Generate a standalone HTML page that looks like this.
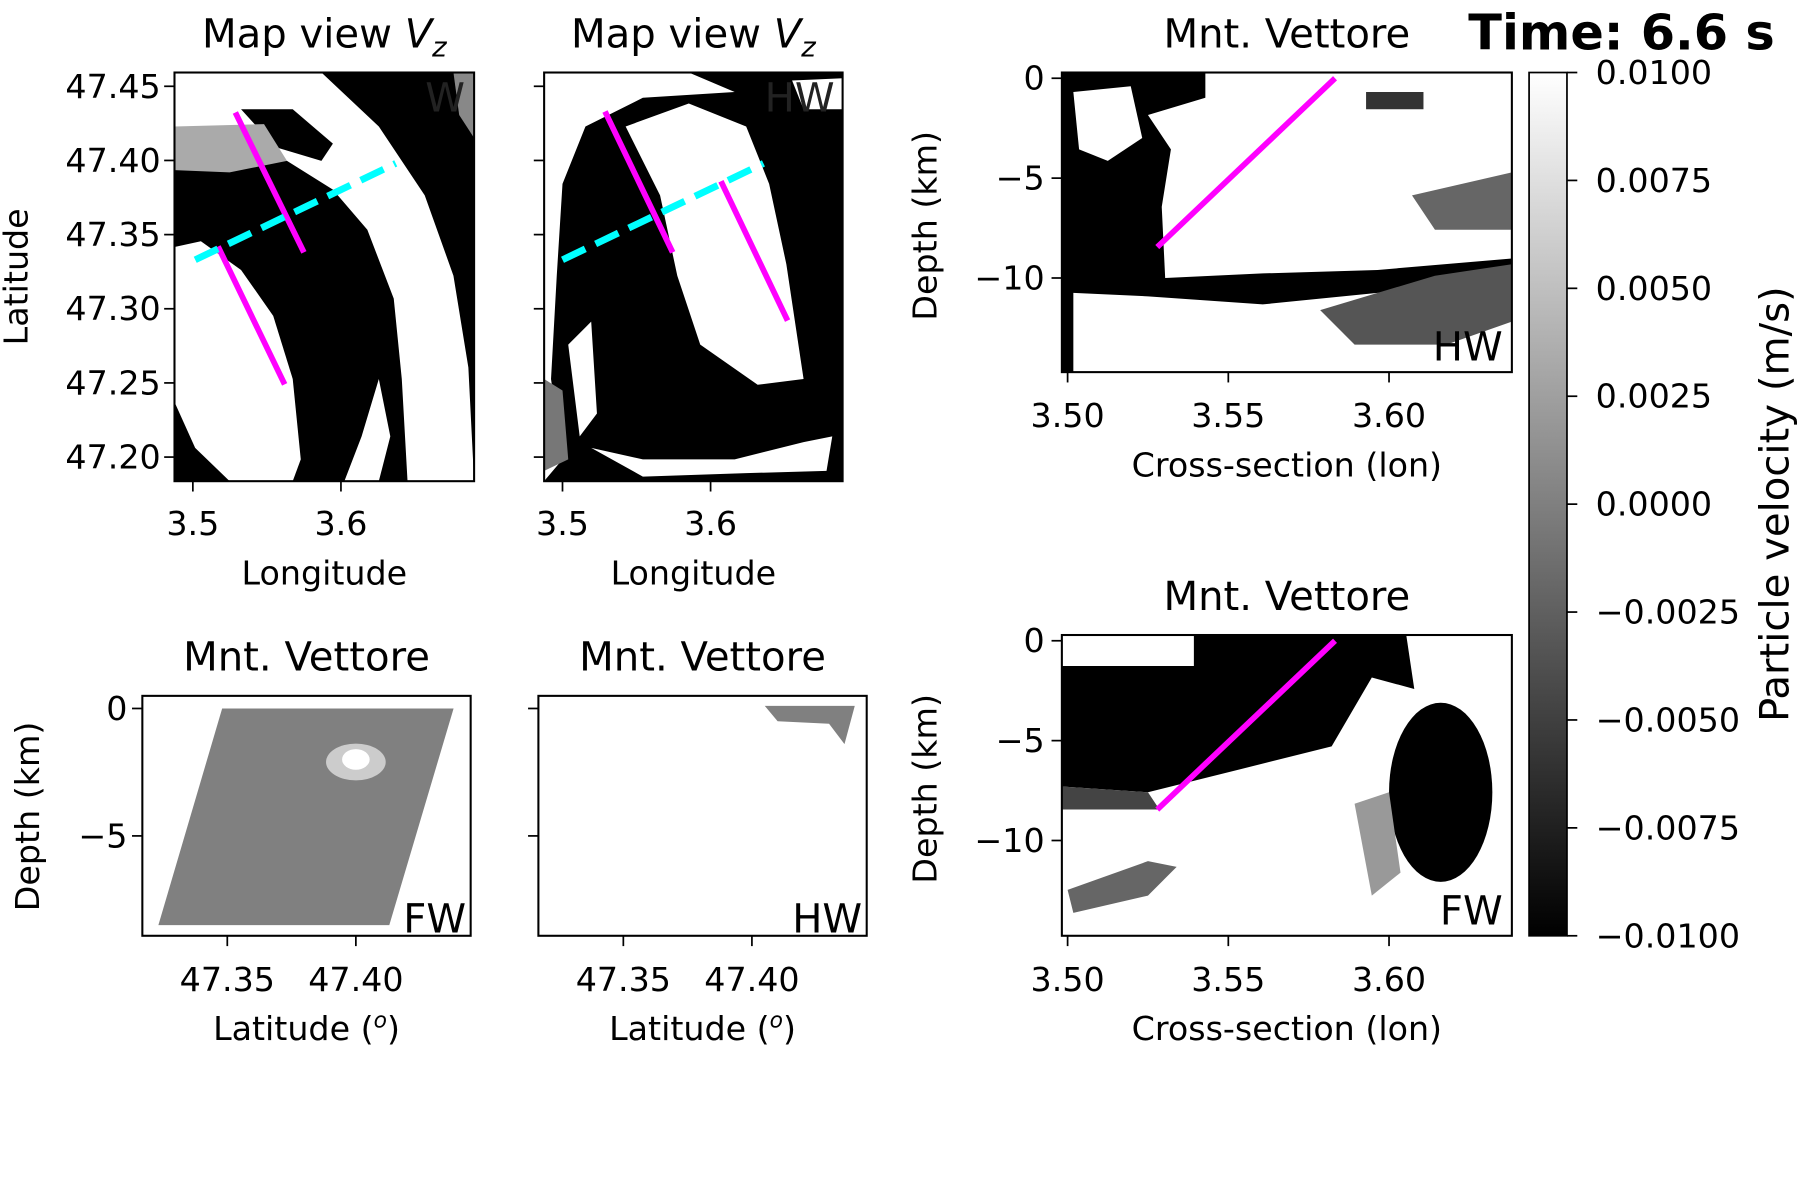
<!DOCTYPE html>
<html><head><meta charset="utf-8"><style>
html,body{margin:0;padding:0;background:#fff;}
svg{display:block;font-family:"DejaVu Sans","Liberation Sans",sans-serif;}
</style></head><body>
<svg id="fig" width="1800" height="1200" viewBox="0 0 1568 1045" xmlns="http://www.w3.org/2000/svg">
<defs>
<linearGradient id="cbg" x1="0" y1="1" x2="0" y2="0"><stop offset="0" stop-color="#000"/><stop offset="1" stop-color="#fff"/></linearGradient>
<clipPath id="c1"><rect x="152" y="63" width="261" height="356"/></clipPath>
<clipPath id="c2"><rect x="474" y="63" width="260" height="356"/></clipPath>
<clipPath id="c3"><rect x="925" y="63" width="392" height="261"/></clipPath>
<clipPath id="c4"><rect x="925" y="553" width="392" height="262"/></clipPath>
</defs>
<g clip-path="url(#c1)">
<rect x="152" y="63" width="261" height="356" fill="#000"/>
<polygon fill="#fff" points="152,63 280,63 330,110 370,170 395,240 408,320 413,419 355,419 350,330 343,260 320,200 290,165 250,140 200,128 152,125"/>
<polygon fill="#000" points="210,95 255,95 290,125 280,140 240,128"/>
<polygon fill="#aaa" points="152,110 230,108 250,140 200,150 152,148"/>
<polygon fill="#fff" points="152,215 175,210 210,235 238,275 255,330 262,400 255,419 200,419 170,390 152,350"/>
<polygon fill="#fff" points="300,419 315,380 330,330 340,380 330,419"/>
<polygon fill="#888" points="395,63 413,63 413,120 400,100"/>
</g>
<g clip-path="url(#c2)">
<rect x="474" y="63" width="260" height="356" fill="#000"/>
<polygon fill="#fff" points="474,63 600,63 640,80 560,85 510,110 490,160 485,240 480,330 490,400 474,419"/>
<polygon fill="#fff" points="545,110 600,90 650,110 670,160 685,230 700,330 660,335 610,300 590,240 575,170"/>
<polygon fill="#fff" points="495,300 515,280 520,360 505,380"/>
<polygon fill="#fff" points="515,390 560,400 640,400 700,385 725,380 720,410 650,412 560,415"/>
<polygon fill="#fff" points="690,70 734,68 734,95 700,95"/>
<polygon fill="#777" points="474,330 490,340 495,400 474,410"/>
</g>
<g clip-path="url(#c3)">
<rect x="925" y="63" width="392" height="261" fill="#000"/>
<polygon fill="#fff" points="1050,63 1317,63 1317,225 1200,235 1100,238 1015,242 1012,180 1020,130 1000,100 1050,85"/>
<polygon fill="#fff" points="935,80 985,75 995,120 965,140 940,130"/>
<polygon fill="#fff" points="935,255 1000,258 1100,265 1200,255 1317,250 1317,324 935,324"/>
<polygon fill="#666" points="1230,170 1317,150 1317,200 1250,200"/>
<polygon fill="#555" points="1150,270 1250,240 1317,230 1317,280 1260,300 1180,300"/>
<polygon fill="#333" points="1190,80 1240,80 1240,95 1190,95"/>
</g>
<g clip-path="url(#c4)">
<rect x="925" y="553" width="392" height="262" fill="#fff"/>
<polygon fill="#000" points="925,580 1040,580 1040,553 1225,553 1232,600 1195,590 1160,650 1080,670 1000,690 925,685"/>
<polygon fill="#444" points="925,685 1000,690 1010,705 925,705"/>
<ellipse cx="1255" cy="690" rx="45" ry="78" fill="#000"/>
<polygon fill="#666" points="930,775 1000,750 1025,755 1000,780 935,795"/>
<polygon fill="#999" points="1180,700 1210,690 1220,760 1195,780"/>
</g>
<g id="plots"></g>
<rect x="1332" y="63" width="33" height="752" fill="url(#cbg)" stroke="#000" stroke-width="1.5"/>
</svg>
<script>
// ---- data ----
const mapLonTicks=[3.5,3.6];
const mapLatTicks=[47.45,47.40,47.35,47.30,47.25,47.20];
const map1Faults=[[[3.5287,47.4323],[3.575,47.338]],[[3.517,47.342],[3.562,47.249]]];
const map1Profile=[[3.5016,47.333],[3.637,47.398]];
const map2Faults=[[[3.5287,47.433],[3.5744,47.338]],[[3.607,47.386],[3.652,47.292]]];
const map2Profile=[[3.50,47.333],[3.6357,47.398]];
const xsecLonTicks=[3.50,3.55,3.60];
const xsecDepthTicks=[0,-5,-10];
const xsecFault=[[3.5279,-8.45],[3.5832,0]];
const latTicks=[47.35,47.40];
const fwDepthTicks=[0,-5];
const fwPatch=[[47.3232,-8.5],[47.348,0],[47.438,0],[47.413,-8.5]];
const hwPatch=[[47.405,0.1],[47.44,0.1],[47.436,-1.4],[47.43,-0.6],[47.41,-0.5]];
const cbTicks=[0.0100,0.0075,0.0050,0.0025,0.0000,-0.0025,-0.0050,-0.0075,-0.0100];

const NS='http://www.w3.org/2000/svg';
const G=document.getElementById('plots');
function mk(t,a,p){const e=document.createElementNS(NS,t);for(const k in a)e.setAttribute(k,a[k]);(p||G).appendChild(e);return e;}
function lin(d0,d1,r0,r1){return v=>r0+(v-d0)*(r1-r0)/(d1-d0);}
function txt(x,y,s,size,anchor,extra){const e=mk('text',Object.assign({x:x,y:y,'font-size':size,'text-anchor':anchor||'middle',fill:'#000'},extra||{}));e.textContent=s;return e;}
const TK=29, AX=29, TT=35;

const m1x=lin(3.5,3.6,168,297), m2x=lin(3.5,3.6,490,619);
const my=lin(47.45,47.20,75,398);
function mapAxes(L,R,xs,name,showY){
  const f=mk('rect',{x:L,y:63,width:R-L,height:356,fill:'none',stroke:'#000','stroke-width':1.8});
  
  
  mapLonTicks.forEach(v=>{const x=xs(v);mk('line',{x1:x,y1:419,x2:x,y2:428,stroke:'#000','stroke-width':1.5});
    const t=txt(x,466,v.toFixed(1),TK);});
  mapLatTicks.forEach(v=>{const y=my(v);mk('line',{x1:L-9,y1:y,x2:L,y2:y,stroke:'#000','stroke-width':1.5});
    if(showY){const t=txt(L-12,y+10,v.toFixed(2),TK,'end');}});
  const xl=txt((L+R)/2,509,'Longitude',AX);
  const tt=mk('text',{x:(L+R)/2,y:41,'font-size':TT,'text-anchor':'middle'});
  tt.innerHTML='Map view <tspan font-style="italic">V</tspan><tspan font-style="italic" font-size="24" dy="8">z</tspan>';
  
}
function drawMapLines(xs,faults,prof,name){
  faults.forEach(f=>{const l=mk('line',{x1:xs(f[0][0]),y1:my(f[0][1]),x2:xs(f[1][0]),y2:my(f[1][1]),stroke:'#ff00ff','stroke-width':5});
    });
  const p=mk('line',{x1:xs(prof[0][0]),y1:my(prof[0][1]),x2:xs(prof[1][0]),y2:my(prof[1][1]),stroke:'#00ffff','stroke-width':6,'stroke-dasharray':'22,10'});
  
}
mapAxes(152,413,m1x,'map1',true);
mapAxes(474,734,m2x,'map2',false);
drawMapLines(m1x,map1Faults,map1Profile,'map1');
drawMapLines(m2x,map2Faults,map2Profile,'map2');
txt(405,97,'W',35,'end',{fill:'#222'});
txt(727,97,'HW',35,'end',{fill:'#222'});
const yl=txt(0,0,'Latitude',AX,'middle',{transform:'translate(24,241) rotate(-90)'});


const bx1=lin(47.35,47.40,198,310), bx2=lin(47.35,47.40,543,655);
const by=lin(0,-5,617,728);
function faultPanel(L,R,xs,name,showY,label,poly,fill){
  mk('rect',{x:L,y:606,width:R-L,height:209,fill:'#fff'});
  const pg=mk('polygon',{points:poly.map(p=>xs(p[0])+','+by(p[1])).join(' '),fill:fill});
  
  if(name==='fw'){mk('ellipse',{cx:xs(47.40),cy:by(-2.1),rx:26,ry:16,fill:'#ccc'});mk('ellipse',{cx:xs(47.40),cy:by(-2.0),rx:12,ry:9,fill:'#fff'});}
  const f=mk('rect',{x:L,y:606,width:R-L,height:209,fill:'none',stroke:'#000','stroke-width':1.8});
  
  latTicks.forEach(v=>{const x=xs(v);mk('line',{x1:x,y1:815,x2:x,y2:824,stroke:'#000','stroke-width':1.5});txt(x,863,v.toFixed(2),TK);});
  fwDepthTicks.forEach(v=>{const y=by(v);mk('line',{x1:L-9,y1:y,x2:L,y2:y,stroke:'#000','stroke-width':1.5});if(showY)txt(L-13,y+10,String(v).replace('-','\u2212'),TK,'end');});
  const xt=mk('text',{x:(L+R)/2,y:906,'font-size':AX,'text-anchor':'middle'});xt.innerHTML='Latitude (<tspan font-style="italic" font-size="19" dy="-11">o</tspan><tspan dy="11">)</tspan>';
  
  const t=txt((L+R)/2,584,'Mnt. Vettore',TT);
  txt(R-4,812,label,35,'end');
}
faultPanel(124,410,bx1,'fw',true,'FW',fwPatch,'#808080');
faultPanel(469,755,bx2,'hw',false,'HW',hwPatch,'#808080');
txt(0,0,'Depth (km)',AX,'middle',{transform:'translate(34,711) rotate(-90)'});

const cx=lin(3.50,3.60,930,1210);
function xsec(T,B,name,label){
  const dy=lin(0,-10,T+5,T+179);
  const f=mk('rect',{x:925,y:T,width:392,height:B-T,fill:'none',stroke:'#000','stroke-width':1.8});
  
  const l=mk('line',{x1:cx(xsecFault[0][0]),y1:dy(xsecFault[0][1]),x2:cx(xsecFault[1][0]),y2:dy(xsecFault[1][1]),stroke:'#ff00ff','stroke-width':5});
  
  xsecLonTicks.forEach(v=>{const x=cx(v);mk('line',{x1:x,y1:B,x2:x,y2:B+9,stroke:'#000','stroke-width':1.5});txt(x,B+48,v.toFixed(2),TK);});
  xsecDepthTicks.forEach(v=>{const y=dy(v);mk('line',{x1:916,y1:y,x2:925,y2:y,stroke:'#000','stroke-width':1.5});txt(910,y+10,String(v).replace('-','\u2212'),TK,'end');});
  const xt=txt(1121,B+91,'Cross-section (lon)',AX);
  txt(0,0,'Depth (km)',AX,'middle',{transform:'translate(816,'+((T+B)/2+3)+') rotate(-90)'});
  const t=txt(1121,T-22,'Mnt. Vettore',TT);
  txt(1309,B-10,label,35,'end');
}
xsec(63,324,'top','HW');
xsec(553,815,'bottom','FW');

const cby=lin(0.01,-0.01,63,815);
cbTicks.forEach(v=>{const y=cby(v);mk('line',{x1:1365,y1:y,x2:1374,y2:y,stroke:'#000','stroke-width':1.5});
  const t=txt(1390,y+10,v.toFixed(4).replace('-','\u2212'),TK,'start');});
const cl=txt(0,0,'Particle velocity (m/s)',35,'middle',{transform:'translate(1558,439) rotate(-90)'});

const tm=txt(1546,43,'Time: 6.6 s',43,'end',{'font-weight':'bold'});

</script>
</body></html>
